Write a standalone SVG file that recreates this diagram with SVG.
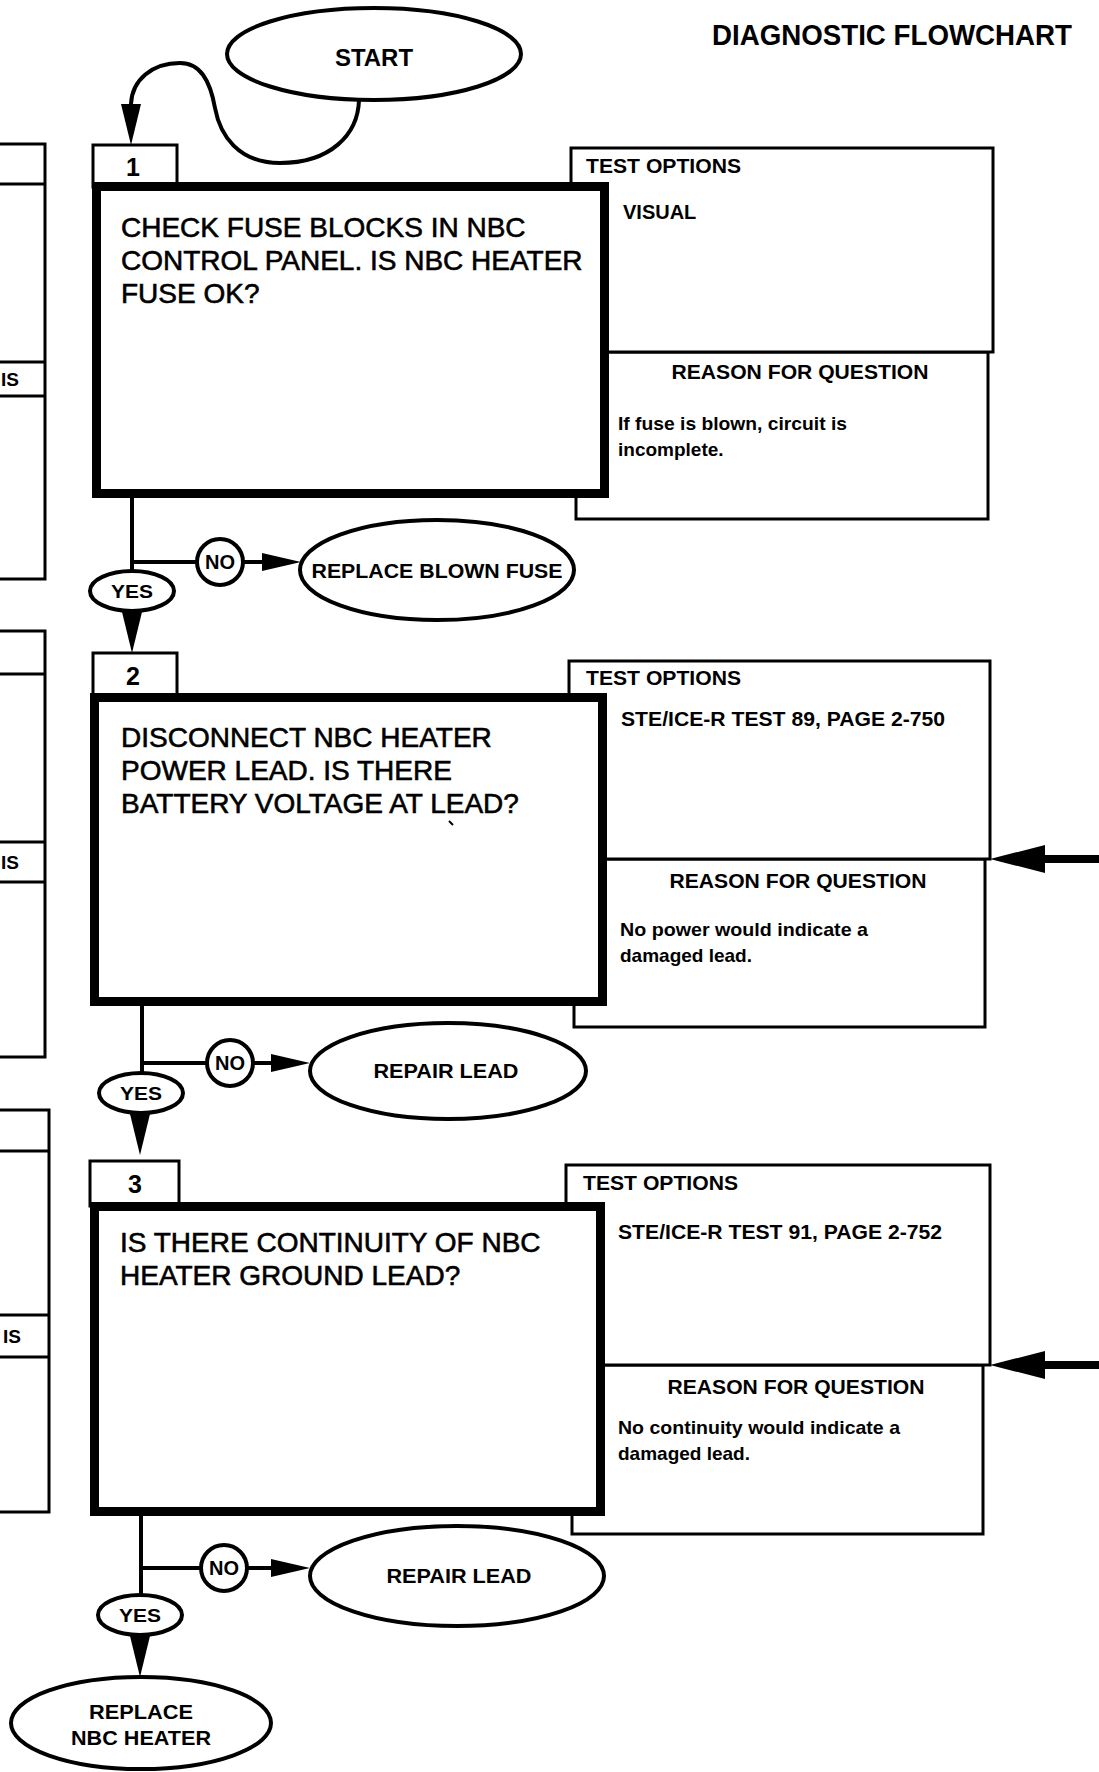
<svg xmlns="http://www.w3.org/2000/svg" xmlns:xlink="http://www.w3.org/1999/xlink" width="1099" height="1772" viewBox="0 0 1099 1772">
<style>
text{font-family:"Liberation Sans",Arial,Helvetica,sans-serif;fill:#000}
.q{font-size:28px;stroke:#000;stroke-width:0.6}
.b{font-weight:bold}
.hd{font-size:20px;font-weight:bold}
.sm{font-size:19px;font-weight:bold}
.el{fill:#fff;stroke:#000;stroke-width:4}
.thin{fill:#fff;stroke:#000;stroke-width:3}
.main{fill:#fff;stroke:#000;stroke-width:9}
.ln{fill:none;stroke:#000;stroke-width:4}
.mid{text-anchor:middle}
</style>
<defs>
<path id="ad" d="M-10,0 L10,0 L0,41 Z" fill="#000"/>
<path id="ar" d="M0,-9 L0,9 L39,0 Z" fill="#000"/>
<path id="al" d="M0,0 L55,-14 L55,14 Z" fill="#000"/>
</defs>
<rect width="1099" height="1772" fill="#fff"/>

<text x="712" y="45" class="b" font-size="29" textLength="360" lengthAdjust="spacingAndGlyphs">DIAGNOSTIC FLOWCHART</text>

<g id="left-boxes">
<rect x="-10" y="144" width="55" height="435" class="thin"/>
<line x1="0" y1="184" x2="45" y2="184" stroke="#000" stroke-width="3"/>
<line x1="0" y1="362" x2="45" y2="362" stroke="#000" stroke-width="3"/>
<line x1="0" y1="396" x2="45" y2="396" stroke="#000" stroke-width="3"/>
<text x="1" y="386" class="sm">IS</text>
<rect x="-10" y="631" width="55" height="426" class="thin"/>
<line x1="0" y1="674" x2="45" y2="674" stroke="#000" stroke-width="3"/>
<line x1="0" y1="842" x2="45" y2="842" stroke="#000" stroke-width="3"/>
<line x1="0" y1="882" x2="45" y2="882" stroke="#000" stroke-width="3"/>
<text x="1" y="869" class="sm">IS</text>
<rect x="-10" y="1110" width="59" height="402" class="thin"/>
<line x1="0" y1="1151" x2="49" y2="1151" stroke="#000" stroke-width="3"/>
<line x1="0" y1="1315" x2="49" y2="1315" stroke="#000" stroke-width="3"/>
<line x1="0" y1="1357" x2="49" y2="1357" stroke="#000" stroke-width="3"/>
<text x="3" y="1343" class="sm">IS</text>
</g>

<g id="start">
<ellipse cx="374" cy="54" rx="147" ry="46" class="el"/>
<text x="374" y="66" class="b mid" font-size="23" textLength="78" lengthAdjust="spacingAndGlyphs">START</text>
</g>

<g id="reason-1">
<rect x="576" y="352" width="412" height="167" class="thin"/>
<text x="800" y="379" class="hd mid" font-size="21" textLength="257" lengthAdjust="spacingAndGlyphs">REASON FOR QUESTION</text>
<text x="618" y="430" class="sm" textLength="229" lengthAdjust="spacingAndGlyphs">If fuse is blown, circuit is</text>
<text x="618" y="456" class="sm">incomplete.</text>
</g>
<g id="test-1">
<rect x="571" y="148" width="422" height="204" class="thin"/>
<text x="586" y="173" class="hd" textLength="155" lengthAdjust="spacingAndGlyphs">TEST OPTIONS</text>
<text x="623" y="219" class="hd">VISUAL</text>
</g>
<g id="step-1">
<rect x="93" y="145" width="84" height="42" class="thin"/>
<text x="133" y="176" class="b mid" font-size="25">1</text>
<rect x="96.5" y="186.5" width="508" height="307" class="main"/>
<text x="121" y="237" class="q">CHECK FUSE BLOCKS IN NBC</text>
<text x="121" y="270" class="q">CONTROL PANEL. IS NBC HEATER</text>
<text x="121" y="303" class="q">FUSE OK?</text>
</g>

<g id="reason-2">
<rect x="574" y="859" width="411" height="168" class="thin"/>
<text x="798" y="888" class="hd mid" font-size="21" textLength="257" lengthAdjust="spacingAndGlyphs">REASON FOR QUESTION</text>
<text x="620" y="936" class="sm" textLength="248" lengthAdjust="spacingAndGlyphs">No power would indicate a</text>
<text x="620" y="962" class="sm">damaged lead.</text>
</g>
<g id="test-2">
<rect x="569" y="661" width="421" height="198" class="thin"/>
<text x="586" y="685" class="hd" textLength="155" lengthAdjust="spacingAndGlyphs">TEST OPTIONS</text>
<text x="621" y="726" class="hd" textLength="324" lengthAdjust="spacingAndGlyphs">STE/ICE-R TEST 89, PAGE 2-750</text>
</g>
<g id="step-2">
<rect x="93" y="653" width="84" height="44" class="thin"/>
<text x="133" y="685" class="b mid" font-size="25">2</text>
<rect x="94.5" y="697.5" width="508" height="304" class="main"/>
<text x="121" y="747" class="q">DISCONNECT NBC HEATER</text>
<text x="121" y="780" class="q">POWER LEAD. IS THERE</text>
<text x="121" y="813" class="q">BATTERY VOLTAGE AT LEAD?</text>
<line x1="449" y1="821" x2="453" y2="825" stroke="#000" stroke-width="2"/>
</g>

<g id="reason-3">
<rect x="572" y="1365" width="411" height="169" class="thin"/>
<text x="796" y="1394" class="hd mid" font-size="21" textLength="257" lengthAdjust="spacingAndGlyphs">REASON FOR QUESTION</text>
<text x="618" y="1434" class="sm" textLength="282" lengthAdjust="spacingAndGlyphs">No continuity would indicate a</text>
<text x="618" y="1460" class="sm">damaged lead.</text>
</g>
<g id="test-3">
<rect x="566" y="1165" width="424" height="200" class="thin"/>
<text x="583" y="1190" class="hd" textLength="155" lengthAdjust="spacingAndGlyphs">TEST OPTIONS</text>
<text x="618" y="1239" class="hd" textLength="324" lengthAdjust="spacingAndGlyphs">STE/ICE-R TEST 91, PAGE 2-752</text>
</g>
<g id="step-3">
<rect x="90" y="1161" width="89" height="45" class="thin"/>
<text x="135" y="1193" class="b mid" font-size="25">3</text>
<rect x="94.5" y="1206.5" width="506" height="305" class="main"/>
<text x="120" y="1252" class="q">IS THERE CONTINUITY OF NBC</text>
<text x="120" y="1285" class="q">HEATER GROUND LEAD?</text>
</g>

<g id="connectors">
<path class="ln" d="M359 100 C358 135 330 163 280 163 C238 163 220 135 215 108 C210 80 200 63 180 63 C152 63 132 80 131 104"/>
<use xlink:href="#ad" x="131" y="104"/>
<path class="ln" d="M132 498 V571 M132 562 H197 M243 562 H263"/>
<use xlink:href="#ar" x="262" y="562"/>
<use xlink:href="#ad" x="132" y="612"/>
<path class="ln" d="M142 1006 V1073 M142 1063 H207 M253 1063 H272"/>
<use xlink:href="#ar" x="271" y="1063"/>
<use xlink:href="#ad" x="140" y="1114"/>
<path class="ln" d="M141 1516 V1595 M141 1568 H201 M247 1568 H272"/>
<use xlink:href="#ar" x="271" y="1568"/>
<use xlink:href="#ad" x="140" y="1636"/>
<line x1="1040" y1="859" x2="1099" y2="859" stroke="#000" stroke-width="8"/>
<use xlink:href="#al" x="990" y="859"/>
<line x1="1040" y1="1365" x2="1099" y2="1365" stroke="#000" stroke-width="8"/>
<use xlink:href="#al" x="990" y="1365"/>
</g>

<g id="no-1">
<circle cx="220" cy="562" r="23" class="el" stroke-width="3.5"/>
<text x="220" y="569" class="b mid" font-size="20" textLength="30" lengthAdjust="spacingAndGlyphs">NO</text>
</g>
<g id="yes-1">
<ellipse cx="132" cy="591" rx="42" ry="20" class="el" stroke-width="3.5"/>
<text x="132" y="598" class="b mid" font-size="19" textLength="42" lengthAdjust="spacingAndGlyphs">YES</text>
</g>
<g id="replace-fuse">
<ellipse cx="437" cy="570" rx="137" ry="50" class="el"/>
<text x="437" y="578" class="b mid" font-size="21" textLength="251" lengthAdjust="spacingAndGlyphs">REPLACE BLOWN FUSE</text>
</g>

<g id="no-2">
<circle cx="230" cy="1063" r="23" class="el" stroke-width="3.5"/>
<text x="230" y="1070" class="b mid" font-size="20" textLength="30" lengthAdjust="spacingAndGlyphs">NO</text>
</g>
<g id="yes-2">
<ellipse cx="141" cy="1093" rx="42" ry="20" class="el" stroke-width="3.5"/>
<text x="141" y="1100" class="b mid" font-size="19" textLength="42" lengthAdjust="spacingAndGlyphs">YES</text>
</g>
<g id="repair-lead-1">
<ellipse cx="448" cy="1071" rx="138" ry="48" class="el"/>
<text x="446" y="1078" class="b mid" font-size="21" textLength="145" lengthAdjust="spacingAndGlyphs">REPAIR LEAD</text>
</g>

<g id="no-3">
<circle cx="224" cy="1568" r="23" class="el" stroke-width="3.5"/>
<text x="224" y="1575" class="b mid" font-size="20" textLength="30" lengthAdjust="spacingAndGlyphs">NO</text>
</g>
<g id="yes-3">
<ellipse cx="140" cy="1615" rx="42" ry="20" class="el" stroke-width="3.5"/>
<text x="140" y="1622" class="b mid" font-size="19" textLength="42" lengthAdjust="spacingAndGlyphs">YES</text>
</g>
<g id="repair-lead-2">
<ellipse cx="457" cy="1576" rx="147" ry="50" class="el"/>
<text x="459" y="1583" class="b mid" font-size="21" textLength="145" lengthAdjust="spacingAndGlyphs">REPAIR LEAD</text>
</g>

<g id="replace-heater">
<ellipse cx="141" cy="1723" rx="130" ry="46" class="el"/>
<text x="141" y="1719" class="b mid" font-size="21" textLength="104" lengthAdjust="spacingAndGlyphs">REPLACE</text>
<text x="141" y="1745" class="b mid" font-size="21" textLength="140" lengthAdjust="spacingAndGlyphs">NBC HEATER</text>
</g>
</svg>
